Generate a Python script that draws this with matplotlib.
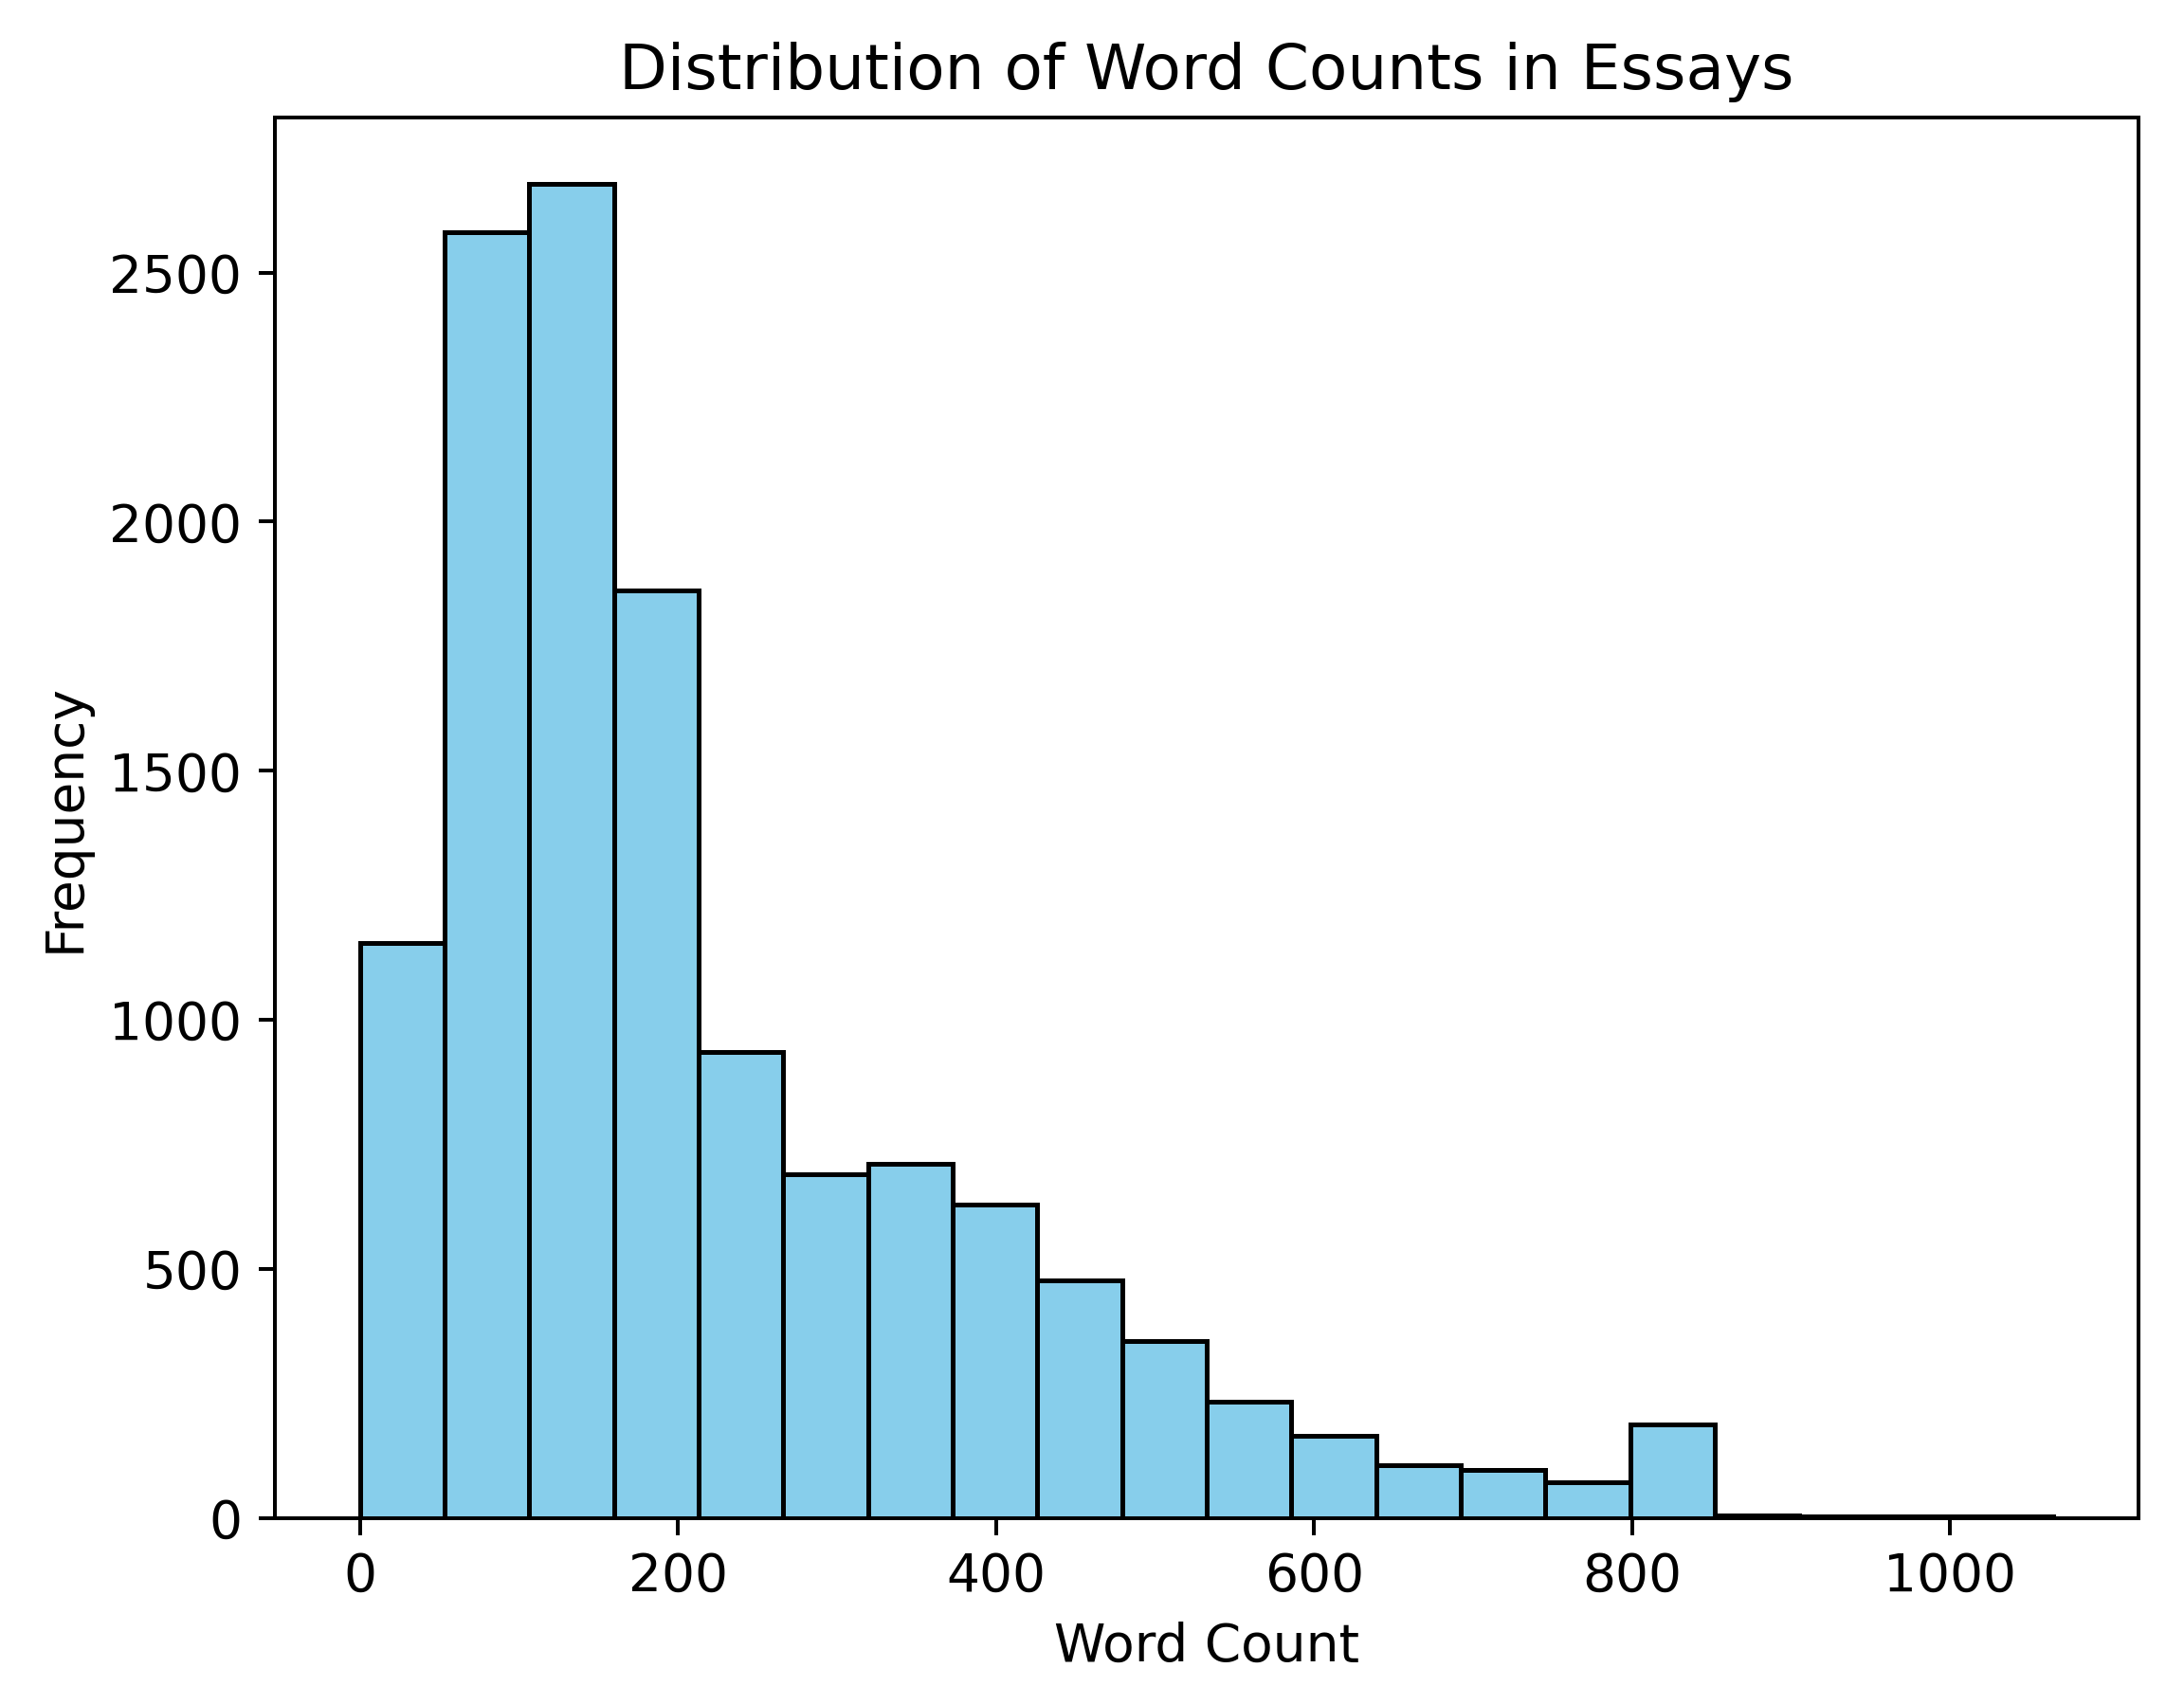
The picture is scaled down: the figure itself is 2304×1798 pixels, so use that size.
import matplotlib
matplotlib.use("Agg")
import matplotlib.pyplot as plt
import numpy as np

plt.rcParams['font.size'] = 11

bin_start = 0
bin_end = 1065
n_bins = 20
counts = [1155, 2580, 2677, 1862, 935, 690, 711, 629, 478, 355, 234, 165, 106, 97, 73, 188, 6, 4, 3, 3]

edges = np.linspace(bin_start, bin_end, n_bins + 1)
centers = (edges[:-1] + edges[1:]) / 2

fig, ax = plt.subplots(figsize=(6.4, 1798/360), dpi=360)
ax.hist(centers, bins=edges, weights=counts, color='skyblue', edgecolor='black')
ax.set_title('Distribution of Word Counts in Essays')
ax.set_xlabel('Word Count')
ax.set_ylabel('Frequency')
fig.subplots_adjust(left=0.126, right=0.979, top=0.931, bottom=0.109)
fig.savefig('out.png', dpi=360)
